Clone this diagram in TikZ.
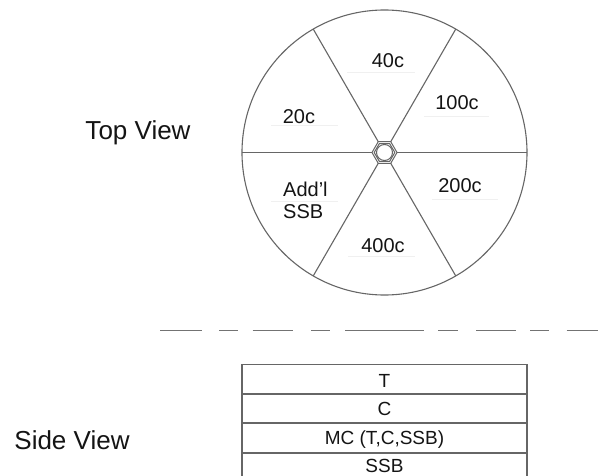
\documentclass[tikz,border=0pt]{standalone}
\usepackage{fontspec}
\setmainfont{Liberation Sans}
\usetikzlibrary{calc}
\begin{document}
\begin{tikzpicture}[x=1pt,y=-1pt,
  ln/.style={draw=black!60,line width=1.1pt},
  lbl/.style={inner sep=0pt,anchor=base,text=black!92,font=\fontsize{20}{23}\selectfont},
  tlbl/.style={inner sep=0pt,anchor=base,text=black!92,font=\fontsize{19}{22}\selectfont},
  view/.style={inner sep=0pt,anchor=base,text=black!92,font=\fontsize{26}{30}\selectfont},
  uline/.style={draw=black!6,line width=1pt},
  row/.style={draw=black!60,line width=1.1pt,minimum width=285pt,minimum height=28.5pt,inner sep=0pt,anchor=north},
  dsh/.style={draw=black!55,line width=1.5pt}]
\useasboundingbox (0,0) rectangle (598,476);
\fill[white] (0,0) rectangle (598,476);
% top view
\coordinate (O) at (384.5,152.5);
\draw[ln] (O) circle (142.5);
\foreach \a in {0,60,...,300}{
  \draw[ln] ($(O)+(\a:12.5)$) -- ($(O)+(\a:142.5)$);
}
\draw[ln,line width=1pt] ($(O)+(0:12.5)$) \foreach \a in {60,120,...,300}{ -- ($(O)+(\a:12.5)$)} -- cycle;
\draw[ln,line width=1pt] ($(O)+(0:10.3)$) \foreach \a in {60,120,...,300}{ -- ($(O)+(\a:10.3)$)} -- cycle;
\draw[ln,line width=1pt] (O) circle (8);
% faint underlines
\draw[uline] (347,72.7) -- (415,72.7);
\draw[uline] (424,116.7) -- (489,116.7);
\draw[uline] (271,126) -- (338,126);
\draw[uline] (432,200) -- (498,200);
\draw[uline] (271,201.7) -- (338,201.7);
\draw[uline] (348,256.7) -- (415,256.7);
% labels
\node[lbl] (l40) at (388,67.7) {40c};
\node[lbl] (l100) at (457,109.3) {100c};
\node[lbl] (l20) at (299,124) {20c};
\node[lbl] (l200) at (460,192.7) {200c};
\node[lbl,anchor=base west] (ladd) at (283,196.7) {Add’l};
\node[lbl,anchor=base west] (lssb) at (283,218.3) {SSB};
\node[lbl] (l400) at (383,252.3) {400c};
\node[view] (tv) at (138,139.3) {Top View};
% dashed separator
\foreach \s/\e in {160/201.7,219/238.3,252.7/292.7,311/330.3,345/424,438.3/457.7,476/515.7,530.3/548.7,566.7/598}{
  \draw[dsh] (\s,330.7) -- (\e,330.7);
}
% side view
\node[row] (rT) at (384.5,364) {};
\node[row] (rC) at (rT.south) {};
\node[row] (rMC) at (rC.south) {};
\node[row] (rS) at (rMC.south) {};
\node[tlbl] at (384.5,387.3) {T};
\node[tlbl] at (384.5,415.7) {C};
\node[tlbl] at (384.5,444.3) {MC (T,C,SSB)};
\node[tlbl] at (384.5,472.7) {SSB};
\node[view] (sv) at (72,449) {Side View};
\end{tikzpicture}
\end{document}
